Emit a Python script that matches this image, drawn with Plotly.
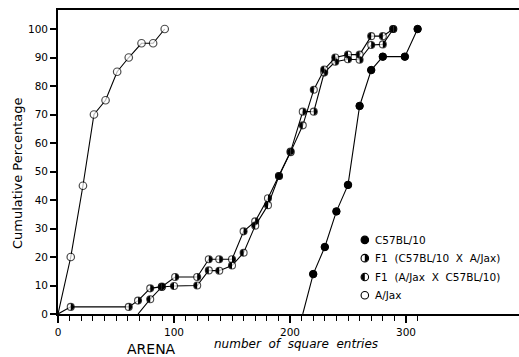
import math
import plotly.graph_objects as go

# ---- data ----
ajax_x = [0, 11, 21.5, 31, 41, 51, 61, 72, 82, 92]
ajax_y = [0, 20, 45, 70, 75, 85, 90, 95, 95, 100]

f1a_x = [0, 11, 61, 69, 79.5, 89.5, 101, 120, 130, 139, 150, 160, 170, 181, 190.5, 200.5,
         211, 220.5, 229.5, 239, 250, 260, 270, 280, 289]
f1a_y = [0, 2.5, 2.5, 4.7, 9, 9.6, 13, 13, 19.2, 19.2, 19.2, 29, 32.5, 40.6, 48.4, 57,
         71, 71, 84.7, 88.5, 89.4, 89.2, 94.4, 94.6, 100]

f1b_x = [69, 79.5, 89.5, 100, 120, 130, 139, 150, 160, 170, 181, 190.5, 200.5,
         211, 220.5, 229.5, 239, 250, 260, 270, 280, 289]
f1b_y = [0, 5.2, 9.5, 9.8, 10, 15.3, 15.2, 17, 21.5, 31, 38.2, 48.4, 56.8,
         66.2, 78.7, 85.8, 90, 91, 91, 97.5, 97.5, 100]

c57_x = [211, 220, 230, 240, 250, 260, 270, 280, 299, 310]
c57_y = [0, 14, 23.5, 36, 45.3, 73, 85.6, 90.3, 90.3, 100]

legend_labels = ["C57BL/10", "F1  (C57BL/10  X  A/Jax)", "F1  (A/Jax  X  C57BL/10)", "A/Jax"]

x_major = [0, 100, 200, 300]
x_minor = list(range(10, 320, 10))
y_ticks = list(range(0, 101, 10))

FONT = "DejaVu Sans"
W, H, L, T, B = 519, 357, 58, 10, 43
pw, ph = W - L, H - T - B


def sizes(n, s, first_hidden=True):
    return [0 if (first_hidden and i == 0) else s for i in range(n)]


def half_path(r, side):
    # half-disc path in pixel units around the anchor; side = +1 right, -1 left
    pts = []
    for k in range(13):
        th = -math.pi / 2 + math.pi * k / 12
        pts.append((side * r * math.cos(th), r * math.sin(th)))
    return "M " + " L ".join(f"{px:.2f},{py:.2f}" for px, py in pts) + " Z"


def disc_path(r):
    pts = []
    for k in range(24):
        th = 2 * math.pi * k / 24
        pts.append((r * math.cos(th), r * math.sin(th)))
    return "M " + " L ".join(f"{px:.2f},{py:.2f}" for px, py in pts) + " Z"


fig = go.Figure()

# A/Jax open circles
fig.add_trace(go.Scatter(
    x=ajax_x, y=ajax_y, mode="lines+markers",
    line=dict(color="black", width=1.1),
    marker=dict(symbol="circle", size=sizes(len(ajax_x), 7.5), color="white",
                line=dict(color="black", width=1.2)),
    showlegend=False, cliponaxis=False, hoverinfo="skip"))

# F1 series: open circle + filled half (shape anchored at each data point)
shapes = []
for xs, ys, side in [(f1a_x, f1a_y, 1), (f1b_x, f1b_y, -1)]:
    fig.add_trace(go.Scatter(
        x=xs, y=ys, mode="lines+markers",
        line=dict(color="black", width=1.1),
        marker=dict(symbol="circle", size=sizes(len(xs), 7), color="white",
                    line=dict(color="black", width=1.1)),
        showlegend=False, cliponaxis=False, hoverinfo="skip"))
    for xv, yv in zip(xs[1:], ys[1:]):
        shapes.append(dict(type="path", xref="x", yref="y", xsizemode="pixel",
                           ysizemode="pixel", xanchor=xv, yanchor=yv,
                           path=half_path(3.4, side), fillcolor="black",
                           line=dict(width=0), layer="above"))

# C57BL/10 filled circles
fig.add_trace(go.Scatter(
    x=c57_x, y=c57_y, mode="lines+markers",
    line=dict(color="black", width=1.1),
    marker=dict(symbol="circle", size=sizes(len(c57_x), 7.5), color="#000000",
                opacity=1, line=dict(color="#000000", width=1)),
    showlegend=False, cliponaxis=False, hoverinfo="skip"))
for xv, yv in zip(c57_x[1:], c57_y[1:]):
    shapes.append(dict(type="path", xref="x", yref="y", xsizemode="pixel",
                       ysizemode="pixel", xanchor=xv, yanchor=yv,
                       path=disc_path(3.6), fillcolor="black",
                       line=dict(width=0), layer="above"))

# legend (drawn inside the plot)
leg_x = 264.5
leg_y = [26, 19.6, 13, 6.6]
fig.add_trace(go.Scatter(
    x=[leg_x] * 4, y=leg_y, mode="markers",
    marker=dict(symbol="circle", size=7.5, color=["black", "white", "white", "white"],
                line=dict(color="black", width=1.1)),
    showlegend=False, cliponaxis=False, hoverinfo="skip"))
for yv, side in [(leg_y[1], 1), (leg_y[2], -1)]:
    shapes.append(dict(type="path", xref="x", yref="y", xsizemode="pixel",
                       ysizemode="pixel", xanchor=leg_x, yanchor=yv,
                       path=half_path(3.6, side), fillcolor="black",
                       line=dict(width=0), layer="above"))
for lab, yy in zip(legend_labels, leg_y):
    fig.add_annotation(x=271.5, y=yy, xref="x", yref="y", text=lab, showarrow=False,
                       xanchor="left", yanchor="middle",
                       font=dict(family=FONT, size=10.5, color="black"))

# axis titles
fig.add_annotation(x=(17 - L) / pw, y=1 - (174 - T) / ph, xref="paper", yref="paper",
                   text="Cumulative Percentage", showarrow=False, textangle=-90,
                   xanchor="center", yanchor="middle",
                   font=dict(family=FONT, size=13, color="black"))
fig.add_annotation(x=(151 - L) / pw, y=1 - (349 - T) / ph, xref="paper", yref="paper",
                   text="ARENA", showarrow=False, xanchor="center", yanchor="middle",
                   font=dict(family=FONT, size=14, color="black"))
fig.add_annotation(x=(296 - L) / pw, y=1 - (344 - T) / ph, xref="paper", yref="paper",
                   text="<i>number  of  square  entries</i>", showarrow=False,
                   xanchor="center", yanchor="middle",
                   font=dict(family=FONT, size=12, color="black"))

fig.update_layout(
    width=W, height=H,
    margin=dict(l=L, r=W - L - pw, t=T, b=B),
    paper_bgcolor="white", plot_bgcolor="white",
    font=dict(family=FONT, color="black"),
    shapes=shapes, hovermode=False,
    xaxis=dict(range=[0, 397.4], showgrid=False, zeroline=False,
               showline=True, linecolor="black", linewidth=1.8, mirror=True,
               tickmode="array", tickvals=x_major, ticktext=[str(v) for v in x_major],
               ticks="outside", ticklen=7, tickwidth=1.5, tickcolor="black",
               tickfont=dict(family=FONT, size=10.5),
               minor=dict(tickmode="array", tickvals=x_minor, ticks="outside",
                          ticklen=5, tickwidth=1.3, tickcolor="black")),
    yaxis=dict(range=[0, 106.67], showgrid=False, zeroline=False,
               showline=True, linecolor="black", linewidth=1.8, mirror=False,
               tickmode="array", tickvals=y_ticks, ticktext=[str(v) for v in y_ticks],
               ticks="outside", ticklen=6, tickwidth=1.5, tickcolor="black",
               tickfont=dict(family=FONT, size=10.5)),
)

fig.write_html("out.html", config={"displayModeBar": False},
               post_script="document.body.style.margin='0';document.body.style.overflow='hidden';")
